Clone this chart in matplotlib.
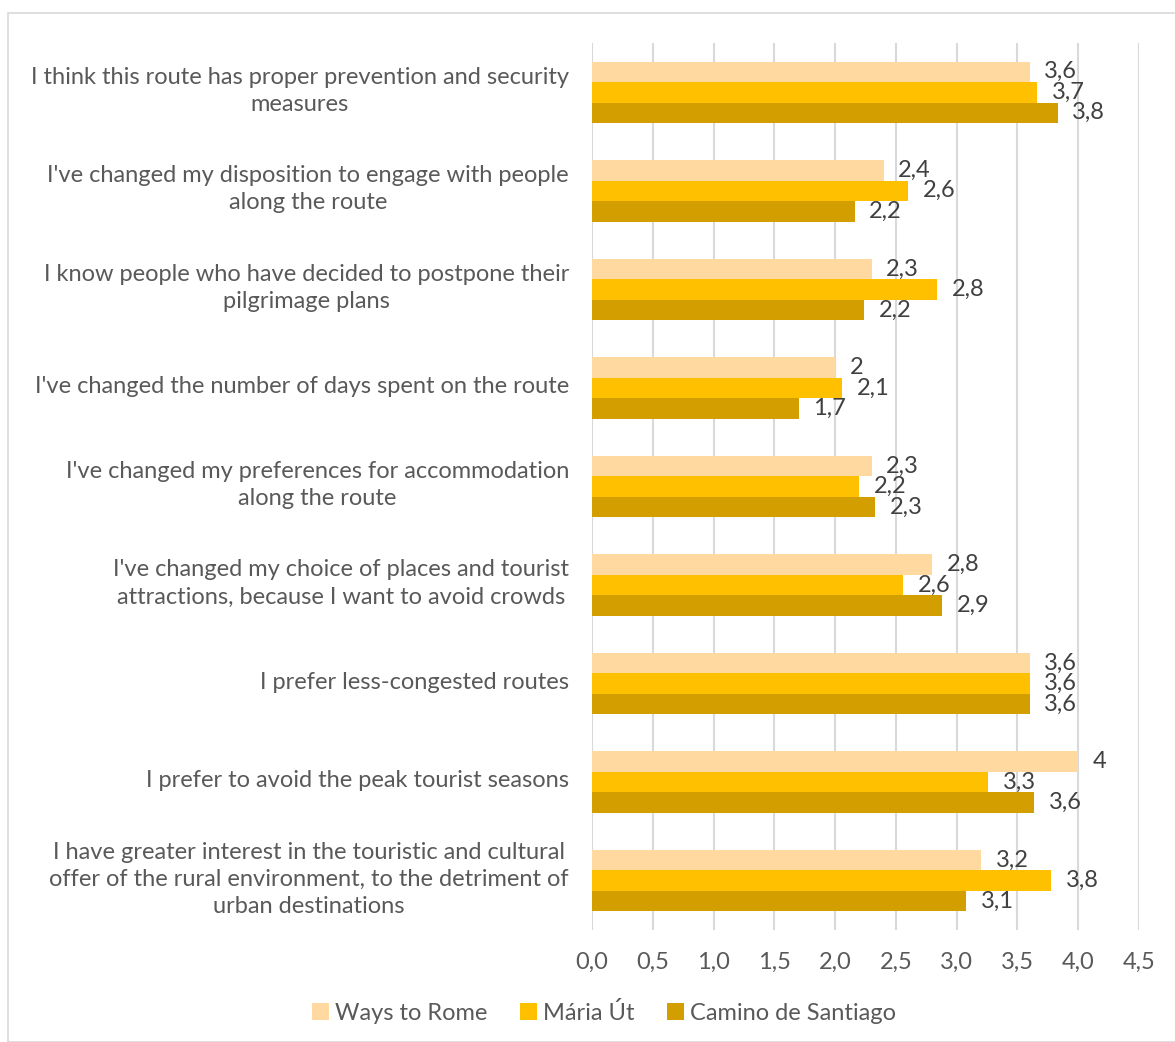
import matplotlib
matplotlib.use("Agg")
import matplotlib.pyplot as plt
import matplotlib.transforms as mtransforms
from matplotlib.patches import Rectangle
import numpy as np

plt.rcParams['font.family'] = ['Lato', 'DejaVu Sans']

statements = [
    "I think this route has proper prevention and security\nmeasures",
    "I've changed my disposition to engage with people\nalong the route",
    "I know people who have decided to postpone their\npilgrimage plans",
    "I've changed the number of days spent on the route",
    "I've changed my preferences for accommodation\nalong the route",
    "I've changed my choice of places and tourist\nattractions, because I want to avoid crowds",
    "I prefer less-congested routes",
    "I prefer to avoid the peak tourist seasons",
    "I have greater interest in the touristic and cultural\noffer of the rural environment, to the detriment of\nurban destinations",
]
ways_to_rome = [3.60, 2.40, 2.30, 2.00, 2.30, 2.80, 3.60, 4.00, 3.20]
maria_ut = [3.66, 2.60, 2.84, 2.06, 2.20, 2.56, 3.60, 3.26, 3.78]
camino = [3.83, 2.16, 2.24, 1.70, 2.33, 2.88, 3.60, 3.64, 3.08]

series = [
    ("Ways to Rome", ways_to_rome, "#FFD9A0"),
    ("Mária Út", maria_ut, "#FFC000"),
    ("Camino de Santiago", camino, "#D39E00"),
]


def fmt(v):
    # one decimal, comma separator, no trailing ",0"
    s = f"{round(v + 1e-9, 1):.1f}".replace(".", ",")
    return s[:-2] if s.endswith(",0") else s


fig = plt.figure(figsize=(11.75, 10.42), dpi=100)
ax = fig.add_axes([592 / 1175, 1 - 930 / 1042, 547 / 1175, 887 / 1042])

# light frame around the whole chart
fig.patches.append(Rectangle((8 / 1175, 0), 1.0, 1 - 13 / 1042, transform=fig.transFigure,
                             fill=False, edgecolor="#D9D9D9", linewidth=1.2))

y = np.arange(len(statements))
h = 0.208
for i, (name, vals, col) in enumerate(series):
    pos = y + (i - 1) * h
    ax.barh(pos, vals, height=h, color=col, label=name, zorder=3)
    for p, v in zip(pos, vals):
        ax.annotate(fmt(v), (v, p), xytext=(10.5, 0),
                    textcoords="offset points", ha="left", va="center",
                    fontsize=17, color="#404040", zorder=4)

ax.set_xlim(0, 4.5)
ax.set_ylim(len(statements) - 0.5, -0.5)
ticks = np.arange(0, 4.51, 0.5)
ax.set_xticks(ticks)
ax.set_xticklabels([f"{t:.1f}".replace(".", ",") for t in ticks])
ax.set_yticks(y)
ax.set_yticklabels([])

# category labels, right-aligned block with centred lines
label_tr = ax.get_yaxis_transform() + mtransforms.ScaledTranslation(-23 / 100, 1.5 / 100, fig.dpi_scale_trans)
for yi, text in zip(y, statements):
    ax.text(0, yi, text, transform=label_tr, ha="right", va="center",
            multialignment="center", linespacing=1.36, fontsize=17, color="#595959")

ax.tick_params(axis="both", length=0, labelsize=17, labelcolor="#595959")
ax.tick_params(axis="x", pad=16)
ax.grid(axis="x", color="#D9D9D9", linewidth=1.5, zorder=0)
ax.set_axisbelow(True)
for s in ax.spines.values():
    s.set_visible(False)

leg = fig.legend(loc="center", bbox_to_anchor=(604 / 1175, 1 - 1013 / 1042), ncol=3,
                 frameon=False, fontsize=17, handlelength=0.7, handleheight=0.7,
                 handletextpad=0.25, columnspacing=1.4)
for t in leg.get_texts():
    t.set_color("#595959")

fig.savefig("out.png", dpi=100)
